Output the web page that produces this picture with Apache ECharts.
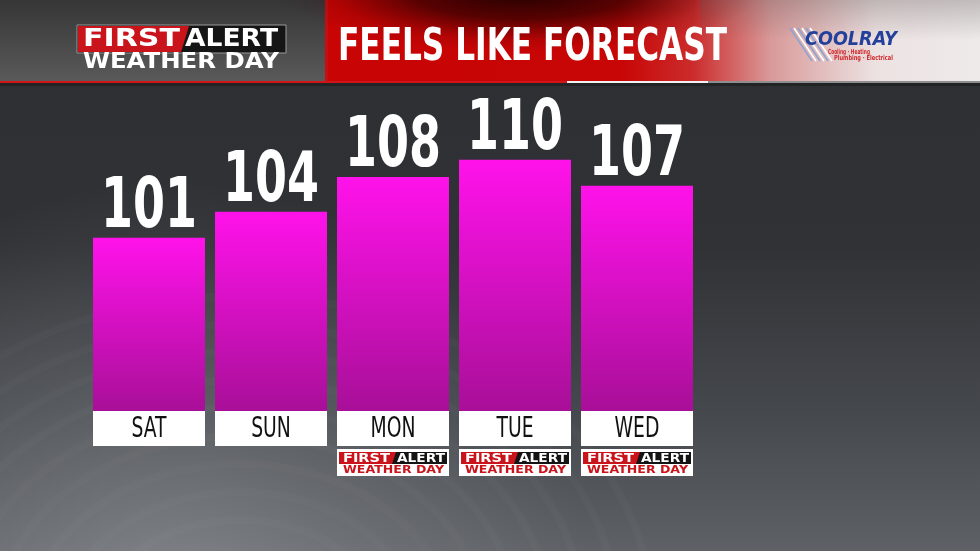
<!DOCTYPE html>
<html>
<head>
<meta charset="utf-8">
<title>Feels Like Forecast</title>
<script src="https://cdn.jsdelivr.net/npm/echarts@6/dist/echarts.min.js"></script>
<style>
  html, body { margin: 0; padding: 0; background: #2e3033; }
  #chart { width: 980px; height: 551px; }
</style>
</head>
<body>
<div id="chart"></div>
<script>
// data
const days = ['SAT', 'SUN', 'MON', 'TUE', 'WED'];
const feelsLike = [101, 104, 108, 110, 107];
const alertDays = ['MON', 'TUE', 'WED'];

const NARROW = '"Liberation Sans Narrow", "DejaVu Sans Condensed", "Roboto", sans-serif';
const WIDE = '"DejaVu Sans", "Liberation Sans", sans-serif';

// scale text horizontally so it fills a given width
var measureCtx = document.createElement('canvas').getContext('2d');
function fit(text, font, w) {
  measureCtx.font = font;
  return w / measureCtx.measureText(text).width;
}

function txt(text, x, y, font, fill, w, align) {
  return {
    type: 'text',
    x: x, y: y,
    scaleX: w ? fit(text, font, w) : 1,
    z: 10,
    style: {
      text: text, x: 0, y: 0, font: font, fill: fill,
      align: align || 'left', textAlign: align || 'left',
      verticalAlign: 'middle', textVerticalAlign: 'middle'
    }
  };
}

var chart = echarts.init(document.getElementById('chart'));

// header and backdrop
var graphics = [
  {
    type: 'rect', z: -10, silent: true,
    shape: { x: 0, y: 0, width: 980, height: 551 },
    style: {
      fill: new echarts.graphic.LinearGradient(0, 0, 0, 1, [
        { offset: 0, color: '#2c2e31' },
        { offset: 0.45, color: '#303236' },
        { offset: 0.75, color: '#45484c' },
        { offset: 1, color: '#5e6166' }
      ])
    }
  },
  {
    type: 'rect', z: -9, silent: true,
    shape: { x: 0, y: 86, width: 980, height: 465 },
    style: {
      fill: new echarts.graphic.RadialGradient(170, 600, 420, [
        { offset: 0, color: 'rgba(160,163,168,0.5)' },
        { offset: 0.6, color: 'rgba(150,153,158,0.2)' },
        { offset: 1, color: 'rgba(150,153,158,0)' }
      ], true)
    }
  },
  // left header panel
  {
    type: 'rect', z: 1,
    shape: { x: 0, y: 0, width: 326, height: 82 },
    style: {
      fill: new echarts.graphic.LinearGradient(0, 0, 0, 1, [
        { offset: 0, color: '#363637' },
        { offset: 1, color: '#5a5a5b' }
      ])
    }
  },
  { type: 'rect', z: 2, shape: { x: 325, y: 0, width: 3, height: 82 }, style: { fill: '#c41014' } },
  // title panel
  {
    type: 'rect', z: 1,
    shape: { x: 328, y: 0, width: 652, height: 82 },
    style: {
      fill: new echarts.graphic.LinearGradient(0, 0, 1, 0, [
        { offset: 0, color: '#c80404' },
        { offset: 0.45, color: '#c80606' },
        { offset: 0.56, color: '#cc2c2c' },
        { offset: 0.68, color: '#d99a9a' },
        { offset: 0.84, color: '#ece2e2' },
        { offset: 1, color: '#eeeaea' }
      ])
    }
  },
  {
    // dark glow along the top of the title panel
    type: 'circle', z: 2,
    x: 520, y: -8, scaleX: 4,
    shape: { cx: 0, cy: 0, r: 60 },
    style: {
      fill: new echarts.graphic.RadialGradient(0.5, 0.5, 0.5, [
        { offset: 0, color: 'rgba(25,0,0,0.95)' },
        { offset: 0.45, color: 'rgba(40,0,0,0.7)' },
        { offset: 0.8, color: 'rgba(60,0,0,0.15)' },
        { offset: 1, color: 'rgba(60,0,0,0)' }
      ])
    }
  },
  {
    type: 'rect', z: 2,
    shape: { x: 700, y: 0, width: 280, height: 40 },
    style: {
      fill: new echarts.graphic.LinearGradient(0, 0, 0, 1, [
        { offset: 0, color: 'rgba(90,80,80,0.3)' },
        { offset: 1, color: 'rgba(90,80,80,0)' }
      ])
    }
  },
  // header underline
  { type: 'rect', z: 3, shape: { x: 0, y: 81, width: 567, height: 2 }, style: { fill: '#d01418' } },
  { type: 'rect', z: 3, shape: { x: 567, y: 81, width: 141, height: 2 }, style: { fill: '#f2f2f2' } },
  { type: 'rect', z: 3, shape: { x: 708, y: 81, width: 272, height: 2 }, style: { fill: '#8e8e90' } },
  { type: 'rect', z: 3, shape: { x: 0, y: 83, width: 980, height: 3 }, style: { fill: '#222325' } },

  // FIRST ALERT WEATHER DAY logo
  { type: 'rect', z: 4, shape: { x: 77, y: 25, width: 209, height: 28 }, style: { fill: '#151515', stroke: '#9a9a9a', lineWidth: 1 } },
  { type: 'polygon', z: 5, shape: { points: [[78, 26], [189, 26], [181, 52], [78, 52]] }, style: { fill: '#c8141a' } },
  txt('FIRST', 83, 39, 'bold 25px ' + WIDE, '#ffffff', 97),
  txt('ALERT', 185, 39, 'bold 25px ' + WIDE, '#ffffff', 93),
  txt('WEATHER DAY', 83, 63, 'bold 21px ' + WIDE, '#ffffff', 196),

  // title
  txt('FEELS LIKE FORECAST', 338, 48, 'bold 45px ' + NARROW, '#ffffff', 389),

  // COOLRAY logo
  txt('COOLRAY', 805, 40, 'italic bold 19px ' + WIDE, '#23409a', 92),
  txt('Cooling \u00b7 Heating', 828, 52, 'bold 7px ' + WIDE, '#d0282c', 42),
  txt('Plumbing \u00b7 Electrical', 834, 58, 'bold 7px ' + WIDE, '#d0282c', 59)
];

// diagonal stripes of the COOLRAY logo
for (var i = 0; i < 6; i++) {
  graphics.push({
    type: 'line', z: 9,
    shape: { x1: 790 + i * 4, y1: 28, x2: 812 + i * 4, y2: 61 },
    style: { stroke: i % 2 ? '#ffffff' : '#8ea3d2', lineWidth: 1.6 }
  });
}

// faint rings in the backdrop
for (var k = 0; k < 9; k++) {
  graphics.push({
    type: 'ellipse', z: -8, silent: true,
    shape: { cx: 240, cy: 620, rx: 140 + k * 34, ry: 100 + k * 28 },
    style: { fill: 'none', stroke: 'rgba(255,255,255,0.02)', lineWidth: 8 }
  });
}

var valueFont = 'bold 70px ' + NARROW;
var valueScale = fit('104', valueFont, 96);
var dayFont = '28px ' + NARROW;
var dayScale = fit('MON', dayFont, 45);

var option = {
  animation: false,
  grid: { left: 88, right: 282, top: 73, bottom: 140 },
  xAxis: {
    type: 'category',
    data: days,
    axisLine: { show: false },
    axisTick: { show: false },
    axisLabel: { show: false }
  },
  yAxis: {
    type: 'value',
    min: 81,
    max: 120,
    show: false
  },
  series: [
    {
      type: 'bar',
      data: feelsLike,
      barWidth: 112,
      itemStyle: {
        color: new echarts.graphic.LinearGradient(0, 0, 0, 1, [
          { offset: 0, color: '#ff12ea' },
          { offset: 1, color: '#a80f98' }
        ])
      }
    },
    {
      // value above each bar
      type: 'custom',
      clip: false,
      z: 6,
      data: feelsLike.map(function (v, i) { return [i, v]; }),
      renderItem: function (params, api) {
        var p = api.coord([api.value(0), api.value(1)]);
        return {
          type: 'text',
          x: p[0], y: p[1] + 6,
          scaleX: valueScale,
          style: {
            text: String(api.value(1)), font: valueFont, fill: '#ffffff',
            align: 'center', verticalAlign: 'bottom',
            shadowColor: 'rgba(0,0,0,0.5)', shadowBlur: 3
          }
        };
      }
    },
    {
      // white day tiles at the base of the bars
      type: 'custom',
      clip: false,
      z: 5,
      data: days.map(function (d, i) { return [i, 81]; }),
      renderItem: function (params, api) {
        var p = api.coord([api.value(0), api.value(1)]);
        return {
          type: 'group',
          children: [
            { type: 'rect', shape: { x: p[0] - 56, y: p[1], width: 112, height: 35 }, style: { fill: '#ffffff' } },
            {
              type: 'text', x: p[0], y: p[1] + 18.5, scaleX: dayScale,
              style: { text: days[api.value(0)], font: dayFont, fill: '#111111', align: 'center', verticalAlign: 'middle' }
            }
          ]
        };
      }
    },
    {
      // FIRST ALERT WEATHER DAY badges under the alert days
      type: 'custom',
      clip: false,
      z: 5,
      data: alertDays.map(function (d) { return [days.indexOf(d), 81]; }),
      renderItem: function (params, api) {
        var p = api.coord([api.value(0), api.value(1)]);
        var x0 = p[0] - 56, y0 = p[1] + 38;
        var fTop = 'bold 12px ' + WIDE;
        var fBot = 'bold 11px ' + WIDE;
        return {
          type: 'group',
          children: [
            { type: 'rect', shape: { x: x0, y: y0, width: 112, height: 27 }, style: { fill: '#ffffff' } },
            { type: 'rect', shape: { x: x0 + 2, y: y0 + 3, width: 108, height: 12 }, style: { fill: '#141414' } },
            { type: 'polygon', shape: { points: [[x0 + 2, y0 + 3], [x0 + 59, y0 + 3], [x0 + 55, y0 + 15], [x0 + 2, y0 + 15]] }, style: { fill: '#c8141a' } },
            {
              type: 'text', x: x0 + 6, y: y0 + 9.5, scaleX: fit('FIRST', fTop, 47),
              style: { text: 'FIRST', font: fTop, fill: '#ffffff', align: 'left', verticalAlign: 'middle' }
            },
            {
              type: 'text', x: x0 + 60, y: y0 + 9.5, scaleX: fit('ALERT', fTop, 48),
              style: { text: 'ALERT', font: fTop, fill: '#ffffff', align: 'left', verticalAlign: 'middle' }
            },
            {
              type: 'text', x: x0 + 6, y: y0 + 21.5, scaleX: fit('WEATHER DAY', fBot, 101),
              style: { text: 'WEATHER DAY', font: fBot, fill: '#c8141a', align: 'left', verticalAlign: 'middle' }
            }
          ]
        };
      }
    }
  ],
  graphic: graphics
};

chart.setOption(option);
</script>
</body>
</html>
